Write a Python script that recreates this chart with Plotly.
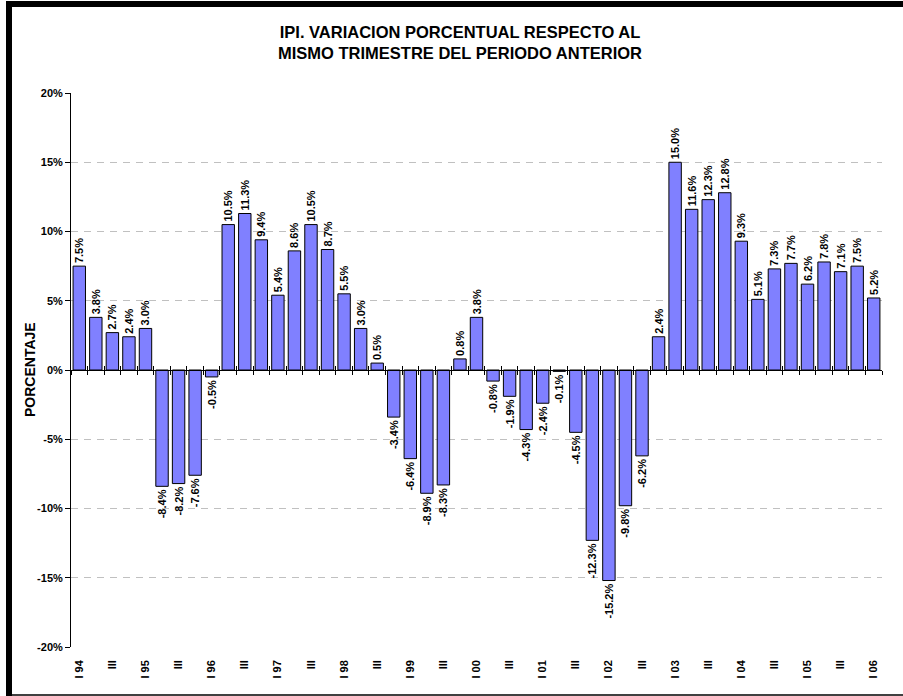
import plotly.graph_objects as go

# Quarterly year-over-year % change of IPI, I-1994 .. I-2006
values = [7.5, 3.8, 2.7, 2.4,
          3.0, -8.4, -8.2, -7.6,
          -0.5, 10.5, 11.3, 9.4,
          5.4, 8.6, 10.5, 8.7,
          5.5, 3.0, 0.5, -3.4,
          -6.4, -8.9, -8.3, 0.8,
          3.8, -0.8, -1.9, -4.3,
          -2.4, -0.1, -4.5, -12.3,
          -15.2, -9.8, -6.2, 2.4,
          15.0, 11.6, 12.3, 12.8,
          9.3, 5.1, 7.3, 7.7,
          6.2, 7.8, 7.1, 7.5,
          5.2]

tick_labels = ["I 94", "III", "I 95", "III", "I 96", "III", "I 97", "III",
               "I 98", "III", "I 99", "III", "I 00", "III", "I 01", "III",
               "I 02", "III", "I 03", "III", "I 04", "III", "I 05", "III",
               "I 06"]

y_ticks = [-20, -15, -10, -5, 0, 5, 10, 15, 20]
y_tick_labels = ["-20%", "-15%", "-10%", "-5%", "0%", "5%", "10%", "15%", "20%"]

title_text = "IPI. VARIACION PORCENTUAL RESPECTO AL<br>MISMO TRIMESTRE DEL PERIODO ANTERIOR"
y_title = "PORCENTAJE"

x = list(range(len(values)))
tick_pos = [i * 2 for i in range(len(tick_labels))]
boundaries = [i + 0.5 for i in range(-1, len(values))]

FONT = "Liberation Sans, Arial, sans-serif"
W, H = 903, 696
L, R, T, B = 71, 21, 93, 49
pw, ph = W - L - R, H - T - B

def px_x(p):
    return (p - L) / pw

def px_y(p):
    return (H - B - p) / ph

fig = go.Figure()
fig.add_trace(go.Bar(
    x=x, y=values,
    marker=dict(color="#8080FF", line=dict(color="black", width=1)),
    width=0.75,
    texttemplate="%{y:.1f}%",
    textposition="outside",
    textangle=-90,
    constraintext="none",
    cliponaxis=False,
    textfont=dict(family=FONT, size=11, color="black", weight="bold"),
    hoverinfo="skip",
))
# invisible traces to attach the zero-line axes
fig.add_trace(go.Scatter(x=[0], y=[0], xaxis="x2", mode="markers",
                         marker=dict(opacity=0), showlegend=False, hoverinfo="skip"))
fig.add_trace(go.Scatter(x=[0], y=[0], xaxis="x3", mode="markers",
                         marker=dict(opacity=0), showlegend=False, hoverinfo="skip"))

zero_pos = (0 - y_ticks[0]) / (y_ticks[-1] - y_ticks[0])
common_zero = dict(range=[-0.5, len(values) - 0.5], overlaying="x", anchor="free",
                   position=zero_pos, showline=True, linecolor="black", linewidth=1,
                   tickvals=boundaries, ticktext=[""] * len(boundaries),
                   tickcolor="black", ticklen=4, tickwidth=1,
                   showgrid=False, zeroline=False, fixedrange=True)

fig.update_layout(
    width=W, height=H,
    margin=dict(l=L, r=R, t=T, b=B),
    paper_bgcolor="white", plot_bgcolor="white",
    showlegend=False,
    bargap=0.25,
    title=dict(text=title_text, x=460 / W, xanchor="center", xref="container",
               y=1 - 38 / H, yanchor="top", yref="container",
               font=dict(family=FONT, size=16.5, color="black", weight="bold")),
    xaxis=dict(range=[-0.5, len(values) - 0.5], tickvals=tick_pos, ticktext=tick_labels,
               tickangle=-90, ticks="", ticklabelstandoff=10,
               showline=False, showgrid=False, zeroline=False,
               tickfont=dict(family=FONT, size=11, color="black", weight="bold")),
    xaxis2=dict(common_zero, ticks="outside"),
    xaxis3=dict(common_zero, ticks="inside"),
    yaxis=dict(range=[y_ticks[0], y_ticks[-1]], tickvals=y_ticks, ticktext=y_tick_labels,
               showline=True, linecolor="black", linewidth=1,
               ticks="outside", ticklen=5, tickcolor="black",
               showgrid=True, gridcolor="#c0c0c0", griddash="7px,6px", gridwidth=1,
               zeroline=False,
               tickfont=dict(family=FONT, size=11, color="black", weight="bold")),
    annotations=[dict(text=y_title, xref="paper", yref="paper",
                      x=px_x(30), y=0.5, textangle=-90, showarrow=False,
                      xanchor="center", yanchor="middle",
                      font=dict(family=FONT, size=14, color="black", weight="bold"))],
    shapes=[
        dict(type="rect", xref="paper", yref="paper",
             x0=px_x(6), x1=px_x(12), y0=px_y(696), y1=px_y(1),
             fillcolor="black", line=dict(width=0), layer="above"),
        dict(type="rect", xref="paper", yref="paper",
             x0=px_x(6), x1=px_x(903), y0=px_y(7), y1=px_y(1),
             fillcolor="black", line=dict(width=0), layer="above"),
        dict(type="line", xref="paper", yref="paper",
             x0=px_x(12), x1=px_x(903), y0=px_y(695), y1=px_y(695),
             line=dict(color="black", width=1.5), layer="above"),
    ],
)

post = (
    "document.documentElement.style.margin='0';"
    "document.body.style.margin='0';"
    "var fr=document.createElement('div');"
    "fr.style.cssText='position:fixed;left:6px;top:1px;width:897px;height:6px;"
    "background:#000;z-index:9999;pointer-events:none;';"
    "document.body.appendChild(fr);"
    "window.scrollTo(0,0);"
)

fig.write_html("out.html",
               config={"displayModeBar": False, "staticPlot": True},
               post_script=post)
